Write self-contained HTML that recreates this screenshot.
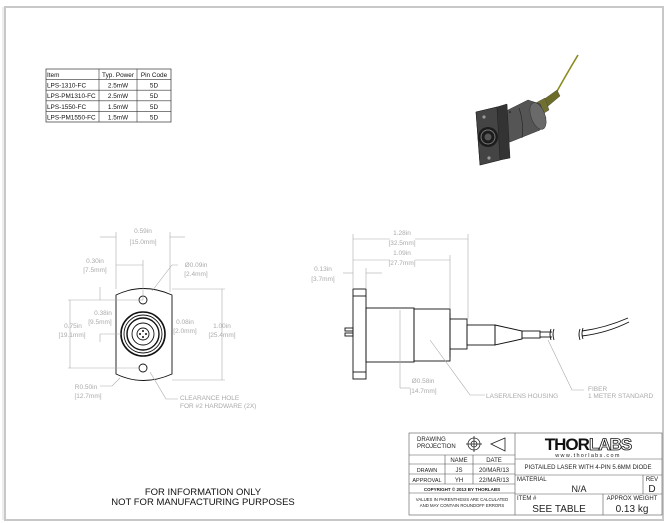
<!DOCTYPE html>
<html><head><meta charset="utf-8"><style>
html,body{margin:0;padding:0;background:#fff;}
svg{display:block;font-family:"Liberation Sans",sans-serif;}
.d{fill:#aaa;font-size:6.5px;text-anchor:middle}
.dl{stroke:#aaa;stroke-width:0.6;fill:none}
.k{stroke:#111;stroke-width:0.9;fill:none}
</style></head><body>
<svg width="669" height="523" viewBox="0 0 669 523">
<rect x="0" y="0" width="669" height="523" fill="#fff"/>
<rect x="5" y="7" width="658" height="513" fill="none" stroke="#c8c8c8" stroke-width="2"/>
<line x1="3" y1="7" x2="3" y2="520" stroke="#ddd" stroke-width="1"/>

<g font-size="6.4" fill="#111">
<rect x="46" y="69" width="125" height="53" fill="none" stroke="#333" stroke-width="0.7"/>
<line x1="99" y1="69" x2="99" y2="122" stroke="#333" stroke-width="0.6"/>
<line x1="137" y1="69" x2="137" y2="122" stroke="#333" stroke-width="0.6"/>
<line x1="46" y1="79.6" x2="171" y2="79.6" stroke="#333" stroke-width="0.6"/>
<line x1="46" y1="90.2" x2="171" y2="90.2" stroke="#333" stroke-width="0.6"/>
<line x1="46" y1="100.8" x2="171" y2="100.8" stroke="#333" stroke-width="0.6"/>
<line x1="46" y1="111.4" x2="171" y2="111.4" stroke="#333" stroke-width="0.6"/>
<text x="47" y="77">Item</text><text x="118" y="77" text-anchor="middle">Typ. Power</text><text x="154" y="77" text-anchor="middle">Pin Code</text>
<text x="47" y="87.6">LPS-1310-FC</text><text x="118" y="87.6" text-anchor="middle">2.5mW</text><text x="154" y="87.6" text-anchor="middle">5D</text>
<text x="47" y="98.2">LPS-PM1310-FC</text><text x="118" y="98.2" text-anchor="middle">2.5mW</text><text x="154" y="98.2" text-anchor="middle">5D</text>
<text x="47" y="108.8">LPS-1550-FC</text><text x="118" y="108.8" text-anchor="middle">1.5mW</text><text x="154" y="108.8" text-anchor="middle">5D</text>
<text x="47" y="119.4">LPS-PM1550-FC</text><text x="118" y="119.4" text-anchor="middle">1.5mW</text><text x="154" y="119.4" text-anchor="middle">5D</text>
</g>

<g>
<path d="M556 93 Q566 75 578 55" stroke="#8a8a20" stroke-width="1.6" fill="none"/>
<polygon points="543,100 557,90 560,96 547,107" fill="#6b6b2a" stroke="#444" stroke-width="0.4"/>
<polygon points="530,106 545,98 549,110 536,118" fill="#707030" stroke="#444" stroke-width="0.4"/>
<polygon points="500,114 528,100 540,104 546,118 540,130 510,142 503,140" fill="#555" stroke="#333" stroke-width="0.5"/>
<ellipse cx="538" cy="116" rx="7" ry="14" transform="rotate(-20 538 116)" fill="#6a6a6a" stroke="#333" stroke-width="0.5"/>
<path d="M519 108 Q524 122 522 138" stroke="#222" stroke-width="0.6" fill="none"/>
<circle cx="510" cy="112" r="0.8" fill="#111"/>
<polygon points="476,112 497,107 507,104 510,158 500,160 480,165" fill="#333" stroke="#222" stroke-width="0.5"/>
<polygon points="476,112 497,107 500,160 480,165" fill="#444" stroke="#222" stroke-width="0.6"/>
<circle cx="488" cy="137" r="10" fill="#1c1c1c"/>
<circle cx="488" cy="137" r="7" fill="none" stroke="#777" stroke-width="1"/>
<circle cx="488" cy="137" r="3.5" fill="#555"/>
<circle cx="484" cy="117" r="1.6" fill="#999"/>
<circle cx="489" cy="158" r="1.6" fill="#999"/>
</g>

<g>
<path class="k" d="M116 295 Q143 282 172 295 L172 374 Q143 387 116 374 Z"/>
<circle class="k" cx="143" cy="300" r="4"/>
<circle class="k" cx="143" cy="368" r="4"/>
<circle cx="143" cy="334" r="22" stroke="#111" stroke-width="1.6" fill="none"/>
<circle class="k" cx="143" cy="334" r="19"/>
<circle cx="143" cy="334" r="16" stroke="#111" stroke-width="1.4" fill="none"/>
<circle class="k" cx="143" cy="334" r="11"/>
<circle class="k" cx="143" cy="334" r="6"/>
<circle cx="143" cy="331" r="1" fill="#111"/><circle cx="143" cy="337" r="1" fill="#111"/>
<circle cx="140" cy="334" r="1" fill="#111"/><circle cx="146" cy="334" r="1" fill="#111"/>
</g>
<g class="dl">
<line x1="116" y1="232" x2="116" y2="289"/><line x1="170" y1="232" x2="170" y2="292"/>
<line x1="100" y1="237" x2="116" y2="237"/><line x1="170" y1="237" x2="185" y2="237"/>
<line x1="143" y1="260" x2="143" y2="300"/>
<line x1="116" y1="265" x2="143" y2="265"/>
<line x1="100" y1="300" x2="143" y2="300"/><line x1="100" y1="334" x2="121" y2="334"/>
<line x1="100" y1="287" x2="100" y2="300"/><line x1="100" y1="334" x2="100" y2="342"/>
<line x1="68" y1="300" x2="100" y2="300"/><line x1="68" y1="368" x2="139" y2="368"/>
<line x1="70" y1="300" x2="70" y2="368"/>
<line x1="172" y1="289" x2="225" y2="289"/><line x1="172" y1="380" x2="225" y2="380"/>
<line x1="222" y1="289" x2="222" y2="380"/>
<polyline points="152,291 172,265 178,265"/>
<polyline points="100,386 112,386 120,378"/>
<polyline points="150,372 166,399 178,399"/>
</g>
<g class="d">
<text x="143" y="233">0.59in</text><text x="143" y="244">[15.0mm]</text>
<text x="95" y="263">0.30in</text><text x="95" y="272">[7.5mm]</text>
<text x="196" y="267">Ø0.09in</text><text x="196" y="276">[2.4mm]</text>
<text x="103" y="315">0.38in</text><text x="100" y="324">[9.5mm]</text>
<text x="73" y="328">0.75in</text><text x="72" y="337">[19.1mm]</text>
<text x="185" y="324">0.08in</text><text x="185" y="333">[2.0mm]</text>
<text x="222" y="328">1.00in</text><text x="222" y="337">[25.4mm]</text>
<text x="86" y="389">R0.50in</text><text x="88" y="398">[12.7mm]</text>
<text x="180" y="400" text-anchor="start">CLEARANCE HOLE</text><text x="180" y="408" text-anchor="start">FOR #2 HARDWARE (2X)</text>
</g>

<g class="k">
<rect x="353" y="289" width="13" height="90"/>
<line x1="353" y1="296" x2="366" y2="296"/><line x1="353" y1="372" x2="366" y2="372"/>
<rect x="366" y="308" width="48" height="54"/>
<rect x="414" y="309" width="36" height="52"/>
<line x1="450" y1="313" x2="450" y2="357"/>
<rect x="450" y="319" width="17" height="30"/>
<rect x="467" y="325" width="28" height="20"/>
<polygon points="495,325 522,331 522,339 495,345"/>
<rect x="522" y="331" width="18" height="7"/>
<line x1="540" y1="332" x2="552" y2="332"/><line x1="540" y1="337" x2="552" y2="337"/>
<path d="M551 329 Q549 334 551 340 M554 329 Q552 334 554 340"/>
<path d="M580 329 Q578 334 580 340 M583 328 Q581 334 583 339"/>
<path d="M582 331 Q605 328 628 318 M582 336 Q607 333 629 322"/>
<rect x="345" y="328" width="8" height="3"/><rect x="345" y="333" width="8" height="3"/>
</g>
<g class="dl">
<line x1="353" y1="234" x2="353" y2="289"/><line x1="468" y1="234" x2="468" y2="319"/>
<line x1="353" y1="239" x2="390" y2="239"/><line x1="415" y1="239" x2="468" y2="239"/>
<line x1="450" y1="255" x2="450" y2="309"/>
<line x1="353" y1="260" x2="390" y2="260"/><line x1="415" y1="260" x2="450" y2="260"/>
<line x1="366" y1="268" x2="366" y2="289"/>
<line x1="343" y1="273" x2="353" y2="273"/><line x1="366" y1="273" x2="382" y2="273"/>
<line x1="400" y1="310" x2="400" y2="388"/><line x1="400" y1="388" x2="410" y2="388"/>
<polyline points="430,340 470,395 485,395"/>
<polyline points="548,340 572,390 584,390"/>
</g>
<g class="d">
<text x="402" y="235">1.28in</text><text x="402" y="245">[32.5mm]</text>
<text x="402" y="255">1.09in</text><text x="402" y="265">[27.7mm]</text>
<text x="323" y="271">0.13in</text><text x="323" y="281">[3.7mm]</text>
<text x="423" y="383">Ø0.58in</text><text x="423" y="393">[14.7mm]</text>
<text x="486" y="398" text-anchor="start">LASER/LENS HOUSING</text>
<text x="588" y="391" text-anchor="start">FIBER</text><text x="588" y="398" text-anchor="start">1 METER STANDARD</text>
</g>

<g stroke="#555" stroke-width="0.6" fill="none">
<rect x="409" y="433" width="253" height="82"/>
<line x1="515" y1="433" x2="515" y2="515"/>
<line x1="409" y1="455" x2="515" y2="455"/>
<line x1="409" y1="464" x2="515" y2="464"/>
<line x1="409" y1="474" x2="515" y2="474"/>
<line x1="409" y1="484" x2="515" y2="484"/>
<line x1="409" y1="493" x2="515" y2="493"/>
<line x1="445" y1="455" x2="445" y2="484"/>
<line x1="473" y1="455" x2="473" y2="484"/>
<line x1="515" y1="459" x2="662" y2="459"/>
<line x1="515" y1="475" x2="662" y2="475"/>
<line x1="515" y1="494" x2="662" y2="494"/>
<line x1="643" y1="475" x2="643" y2="494"/>
<line x1="603" y1="494" x2="603" y2="515"/>
</g>
<g stroke="#222" stroke-width="0.8" fill="none">
<circle cx="474" cy="444" r="6"/><circle cx="474" cy="444" r="3"/>
<line x1="466" y1="444" x2="482" y2="444"/><line x1="474" y1="436" x2="474" y2="452"/>
<polygon points="491,444 505,438 505,451"/>
</g>
<g font-size="6" fill="#222">
<text x="417" y="441">DRAWING</text><text x="417" y="448">PROJECTION</text>
<text x="459" y="462" text-anchor="middle">NAME</text><text x="494" y="462" text-anchor="middle">DATE</text>
<text x="427" y="472" text-anchor="middle" font-size="5.5">DRAWN</text><text x="459" y="472" text-anchor="middle">JS</text><text x="494" y="472" text-anchor="middle">20/MAR/13</text>
<text x="427" y="482" text-anchor="middle" font-size="5.5">APPROVAL</text><text x="459" y="482" text-anchor="middle">YH</text><text x="494" y="482" text-anchor="middle">22/MAR/13</text>
<text x="462" y="491" text-anchor="middle" font-size="4.5" font-weight="bold">COPYRIGHT © 2013 BY THORLABS</text>
<text x="462" y="501" text-anchor="middle" font-size="4.3">VALUES IN PARENTHESIS ARE CALCULATED</text>
<text x="462" y="507" text-anchor="middle" font-size="4.3">AND MAY CONTAIN ROUNDOFF ERRORS</text>
<text x="588" y="450" text-anchor="middle" font-size="17" font-weight="bold" fill="#111" letter-spacing="-1">THOR<tspan fill="#fff" stroke="#111" stroke-width="0.8">LABS</tspan></text>
<text x="588" y="457" text-anchor="middle" font-size="5.5" letter-spacing="1.3">www.thorlabs.com</text>
<text x="588" y="469" text-anchor="middle" font-size="6">PIGTAILED LASER WITH 4-PIN 5.6MM DIODE</text>
<text x="517" y="481">MATERIAL</text>
<text x="579" y="492" text-anchor="middle" font-size="9">N/A</text>
<text x="652" y="481" text-anchor="middle">REV</text>
<text x="652" y="492" text-anchor="middle" font-size="10">D</text>
<text x="517" y="500">ITEM #</text>
<text x="559" y="512" text-anchor="middle" font-size="10">SEE TABLE</text>
<text x="632" y="500" text-anchor="middle">APPROX WEIGHT</text>
<text x="632" y="512" text-anchor="middle" font-size="10">0.13 kg</text>
</g>

<g font-size="9.5" fill="#111" text-anchor="middle">
<text x="203" y="495">FOR INFORMATION ONLY</text>
<text x="203" y="505">NOT FOR MANUFACTURING PURPOSES</text>
</g>
</svg>
</body></html>
